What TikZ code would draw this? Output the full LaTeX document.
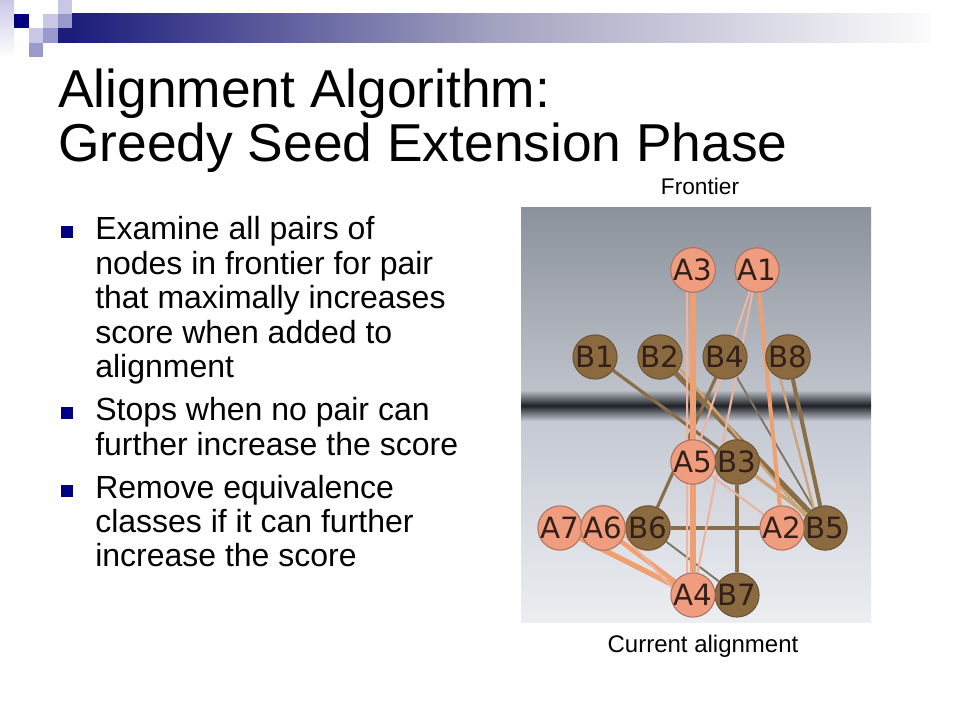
\documentclass[tikz,border=0pt]{standalone}
\usepackage{fontspec}
\setmainfont{Liberation Sans}
\newfontfamily\nodefont{DejaVu Sans}
\usetikzlibrary{backgrounds}

\definecolor{barNavy}{HTML}{1C1C7C}
\definecolor{barMid}{HTML}{A4A4C2}
\definecolor{sqNavy}{HTML}{000080}
\definecolor{sqLight}{HTML}{C8C8E6}
\definecolor{sqMid}{HTML}{9999CC}
\definecolor{bulletBlue}{HTML}{000080}
\definecolor{panelTop}{HTML}{8B929B}
\definecolor{panelMid}{HTML}{BEC2CA}
\definecolor{bandDark}{HTML}{1E2226}
\definecolor{panelLow}{HTML}{C5C9D3}
\definecolor{panelBot}{HTML}{ECEEF1}
\definecolor{anodeFill}{HTML}{F09C7E}
\definecolor{anodeLine}{HTML}{A8705E}
\definecolor{bnodeFill}{HTML}{8A6A3E}
\definecolor{bnodeLine}{HTML}{6A5232}
\definecolor{nodeText}{HTML}{33201A}
\definecolor{aedgeCol}{HTML}{F0A070}
\definecolor{pedgeCol}{HTML}{ECB4A2}
\definecolor{bedgeCol}{HTML}{8A6E48}
\definecolor{gedgeCol}{HTML}{7C7464}
\definecolor{tedgeCol}{HTML}{CCA476}

\begin{document}
\begin{tikzpicture}[x=0.75pt,y=-0.75pt,
  anode/.style={circle,draw=anodeLine,line width=0.75pt,fill=anodeFill,minimum size=32pt,inner sep=0pt,text=nodeText,font=\nodefont\fontsize{22}{22}\selectfont},
  bnode/.style={circle,draw=bnodeLine,line width=0.75pt,fill=bnodeFill,minimum size=32pt,inner sep=0pt,text=nodeText,font=\nodefont\fontsize{22}{22}\selectfont},
  aedge/.style={draw=aedgeCol,line width=3pt},
  pedge/.style={draw=pedgeCol,line width=1.6pt},
  bedge/.style={draw=bedgeCol,line width=2.4pt},
  gedge/.style={draw=gedgeCol,line width=1.4pt},
  tedge/.style={draw=tedgeCol,line width=2.5pt},
  titletext/.style={anchor=base west,inner sep=0pt,font=\fontsize{40}{40}\selectfont},
  bodytext/.style={anchor=base west,inner sep=0pt,font=\fontsize{24}{24}\selectfont},
  captext/.style={anchor=base,inner sep=0pt,font=\fontsize{17}{17}\selectfont},
  bulletsq/.style={fill=bulletBlue,minimum size=9pt,inner sep=0pt}]
\useasboundingbox (0,0) rectangle (960,720);

% header squares and bar
\shade[top color=sqLight,bottom color=white] (0,0) rectangle (14,57);
\fill[sqNavy] (14,14) rectangle (29,28);
\fill[sqLight] (43,14) rectangle (58,28);
\fill[sqLight] (58,0) rectangle (72,14);
\fill[sqLight] (29,28) rectangle (43,43);
\fill[sqMid] (58,14) rectangle (72,28);
\fill[sqMid] (43,28) rectangle (58,43);
\fill[sqMid] (29,43) rectangle (43,57);
\fill[barNavy] (58,28) rectangle (72,43);
\shade[left color=barNavy,right color=white!96!barMid,middle color=barMid] (72,14) rectangle (930,43);

% title
\node[titletext] (title1) at (58,108) {Alignment Algorithm:};
\node[titletext] (title2) at (58,162) {Greedy Seed Extension Phase};

% bullets
\foreach \yy in {232.5,412.5,490.5}
  \node[bulletsq] at (67,\yy) {};
\foreach \yy/\txt [count=\i] in {240/Examine all pairs of,275/nodes in frontier for pair,
    309/that maximally increases,343/score when added to,377/alignment,
    420/Stops when no pair can,455/further increase the score,
    498/Remove equivalence,532/classes if it can further,566/increase the score}
  \node[bodytext] (line\i) at (95,\yy) {\txt};

% graph nodes
\node[bnode] at (595,357) (B1) {B1};
\node[bnode] at (660,357) (B2) {B2};
\node[bnode] at (725,357) (B4) {B4};
\node[bnode] at (788,357) (B8) {B8};
\node[bnode] at (737,462) (B3) {B3};
\node[bnode] at (648,528) (B6) {B6};
\node[bnode] at (825,528) (B5) {B5};
\node[bnode] at (737,595) (B7) {B7};
\node[anode] at (693,270) (A3) {A3};
\node[anode] at (757,270) (A1) {A1};
\node[anode] at (693,462) (A5) {A5};
\node[anode] at (560,528) (A7) {A7};
\node[anode] at (603,528) (A6) {A6};
\node[anode] at (782,528) (A2) {A2};
\node[anode] at (693,595) (A4) {A4};

\begin{scope}[on background layer]
\fill[white] (0,0) rectangle (960,720);
% panel
\shade[top color=panelTop,bottom color=panelMid] (521,208) rectangle (871,390);
\shade[top color=panelMid,bottom color=panelLow,middle color=bandDark] (521,390) rectangle (871,421);
\shade[top color=panelLow,bottom color=panelBot] (521,421) rectangle (871,622);
% edges
\draw[bedge] (B1) to (B3);
\draw[bedge,line width=4pt] (B2) to (B5);
\draw[tedge,line width=1.8pt] (B2.-30) to (B5.150);
\draw[gedge] (B4) to (B5);
\draw[bedge] (B4) to (B6);
\draw[bedge,line width=3pt] (B8) to (B5);
\draw[tedge,line width=1.8pt] (B8.-110) to (B5.120);
\draw[tedge] (B3) to (B5);
\draw[bedge] (B3) to (B7);
\draw[bedge,line width=2.8pt] (B6) to (B5);
\draw[gedge] (B6) to (B7);
\draw[pedge] (A3.-105) to (A4.105);
\draw[aedge,line width=4pt] (A3) to (A4);
\draw[aedge] (A1) to (A2);
\draw[pedge] (A1) to (A5);
\draw[pedge] (A1) to (A4);
\draw[pedge] (A5) to (A2);
\draw[aedge,line width=4pt] (A7) to (A4);
\draw[aedge,line width=3.5pt] (A6) to (A4);
\draw[pedge] (A6.-20) to (A4.160);
\end{scope}

% captions
\node[captext] (frontier) at (700,195) {Frontier};
\node[captext,font=\fontsize{18}{18}\selectfont] (current) at (703,652) {Current alignment};
\end{tikzpicture}
\end{document}
